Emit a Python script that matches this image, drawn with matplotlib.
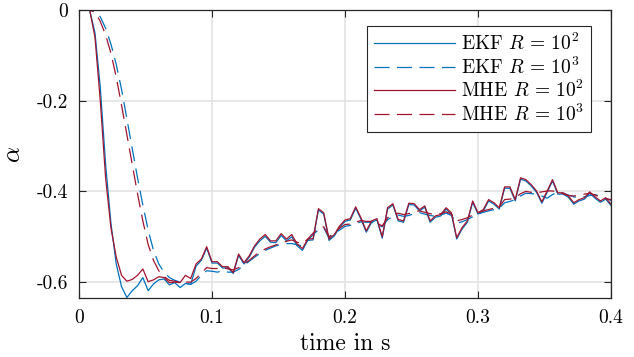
import numpy as np
import matplotlib
matplotlib.use('Agg')
import matplotlib.pyplot as plt

plt.rcParams['font.family'] = 'cmr10'
plt.rcParams['mathtext.fontset'] = 'cm'
plt.rcParams['axes.unicode_minus'] = False
plt.rcParams['axes.formatter.use_mathtext'] = True

# sample time 4 ms, 101 samples
dt = 0.004
t = np.arange(101) * dt

# MHE, R = 10^2 (solid red)
mhe_r2 = [0, 0, 0, -0.06, -0.20, -0.37, -0.48, -0.545, -0.585, -0.598,
          -0.594, -0.585, -0.571, -0.599, -0.595, -0.588, -0.590, -0.601, -0.600, -0.601,
          -0.585, -0.592, -0.560, -0.549, -0.522, -0.555, -0.555, -0.566, -0.566, -0.579,
          -0.538, -0.557, -0.542, -0.520, -0.505, -0.495, -0.509, -0.509, -0.493, -0.505,
          -0.495, -0.516, -0.526, -0.505, -0.504, -0.438, -0.447, -0.505, -0.495, -0.476,
          -0.463, -0.460, -0.434, -0.458, -0.487, -0.465, -0.460, -0.500, -0.436, -0.427,
          -0.462, -0.465, -0.426, -0.427, -0.440, -0.432, -0.465, -0.454, -0.451, -0.436,
          -0.447, -0.502, -0.480, -0.465, -0.421, -0.447, -0.440, -0.418, -0.425, -0.436,
          -0.390, -0.390, -0.418, -0.370, -0.374, -0.385, -0.399, -0.423, -0.399, -0.374,
          -0.403, -0.403, -0.410, -0.425, -0.418, -0.414, -0.401, -0.412, -0.421, -0.414,
          -0.428]

# EKF, R = 10^2 (solid blue)
ekf_r2 = [0, 0, 0, -0.05, -0.17, -0.34, -0.47, -0.56, -0.61, -0.634,
          -0.619, -0.608, -0.590, -0.619, -0.604, -0.595, -0.593, -0.606, -0.601, -0.612,
          -0.603, -0.605, -0.565, -0.552, -0.525, -0.558, -0.558, -0.569, -0.568, -0.581,
          -0.541, -0.560, -0.545, -0.523, -0.509, -0.499, -0.512, -0.513, -0.497, -0.509,
          -0.500, -0.520, -0.530, -0.508, -0.507, -0.441, -0.450, -0.508, -0.498, -0.479,
          -0.466, -0.463, -0.437, -0.461, -0.490, -0.468, -0.463, -0.503, -0.439, -0.430,
          -0.465, -0.468, -0.429, -0.430, -0.443, -0.435, -0.468, -0.457, -0.454, -0.439,
          -0.450, -0.505, -0.483, -0.468, -0.424, -0.450, -0.443, -0.421, -0.428, -0.439,
          -0.393, -0.393, -0.421, -0.373, -0.377, -0.388, -0.402, -0.426, -0.402, -0.377,
          -0.406, -0.406, -0.413, -0.428, -0.421, -0.417, -0.404, -0.415, -0.424, -0.417,
          -0.431]

# MHE, R = 10^3 (dashed red)
mhe_r3 = [0, 0, 0, -0.005, -0.025, -0.055, -0.095, -0.148, -0.21, -0.275,
          -0.34, -0.405, -0.465, -0.517, -0.552, -0.575, -0.588, -0.596, -0.598, -0.600,
          -0.600, -0.600, -0.592, -0.580, -0.568, -0.570, -0.570, -0.568, -0.571, -0.573,
          -0.568, -0.560, -0.552, -0.542, -0.533, -0.527, -0.522, -0.518, -0.514, -0.510,
          -0.507, -0.512, -0.515, -0.505, -0.492, -0.482, -0.478, -0.500, -0.490, -0.481,
          -0.473, -0.472, -0.468, -0.464, -0.466, -0.466, -0.470, -0.476, -0.458, -0.452,
          -0.448, -0.451, -0.449, -0.445, -0.443, -0.446, -0.449, -0.451, -0.449, -0.445,
          -0.450, -0.465, -0.462, -0.458, -0.452, -0.447, -0.443, -0.440, -0.437, -0.434,
          -0.418, -0.417, -0.414, -0.405, -0.400, -0.402, -0.403, -0.401, -0.399, -0.399,
          -0.402, -0.405, -0.409, -0.410, -0.409, -0.406, -0.404, -0.408, -0.413, -0.416,
          -0.418]

# EKF, R = 10^3 (dashed blue)
ekf_r3 = [0, 0, 0, -0.003, -0.015, -0.040, -0.075, -0.120, -0.175, -0.240,
          -0.305, -0.370, -0.430, -0.485, -0.530, -0.560, -0.578, -0.590, -0.596, -0.600,
          -0.603, -0.605, -0.598, -0.585, -0.575, -0.576, -0.578, -0.575, -0.578, -0.578,
          -0.572, -0.563, -0.554, -0.545, -0.537, -0.530, -0.525, -0.520, -0.517, -0.515,
          -0.515, -0.518, -0.520, -0.508, -0.495, -0.485, -0.480, -0.503, -0.493, -0.485,
          -0.477, -0.475, -0.471, -0.467, -0.468, -0.468, -0.472, -0.478, -0.462, -0.456,
          -0.452, -0.455, -0.453, -0.449, -0.447, -0.450, -0.453, -0.455, -0.452, -0.448,
          -0.453, -0.470, -0.467, -0.462, -0.456, -0.450, -0.446, -0.443, -0.440, -0.437,
          -0.425, -0.422, -0.418, -0.410, -0.404, -0.405, -0.406, -0.410, -0.415, -0.407,
          -0.401, -0.404, -0.408, -0.412, -0.414, -0.412, -0.409, -0.407, -0.411, -0.415,
          -0.420]

labels = [r'EKF $R\,=\,10^2$', r'EKF $R\,=\,10^3$', r'MHE $R\,=\,10^2$', r'MHE $R\,=\,10^3$']
xticks = [0, 0.1, 0.2, 0.3, 0.4]
xticklabels = ['0', '0.1', '0.2', '0.3', '0.4']
yticks = [-0.6, -0.4, -0.2, 0]
yticklabels = ['-0.6', '-0.4', '-0.2', '0']

blue = '#0072BD'
red = '#A2142F'
dash = (0, (12, 6))

fig = plt.figure(figsize=(6.34, 3.57), dpi=100)
ax = fig.add_axes([79/634, 1-298/357, 532/634, 288/357])

ax.plot(t, ekf_r2, color=blue, lw=0.9, label=labels[0])
ax.plot(t, ekf_r3, color=blue, lw=0.9, ls=dash, label=labels[1])
ax.plot(t, mhe_r2, color=red, lw=0.9, label=labels[2])
ax.plot(t, mhe_r3, color=red, lw=0.9, ls=dash, label=labels[3])

ax.set_xlim(0, 0.4)
ax.set_ylim(-0.635, 0)
ax.set_xticks(xticks)
ax.set_xticklabels(xticklabels)
ax.set_yticks(yticks)
ax.set_yticklabels(yticklabels)
ax.tick_params(direction='in', top=True, right=True, labelsize=14, length=5,
               width=0.8, color='#262626', pad=8)
ax.grid(True, color='#e3e3e3', lw=1.2)
ax.set_axisbelow(True)
for s in ax.spines.values():
    s.set_color('#262626')
    s.set_linewidth(0.9)

ax.set_xlabel('time in s', fontsize=17, labelpad=4)
ax.set_ylabel(r'$\alpha$', fontsize=18, labelpad=8)

leg = ax.legend(loc='upper right', bbox_to_anchor=(512/532, 1-16/288), borderaxespad=0,
                fontsize=14, handlelength=4.2, handletextpad=0.3, labelspacing=0.12,
                fancybox=False, framealpha=1, edgecolor='#262626', borderpad=0.35)
leg.get_frame().set_linewidth(0.8)

fig.savefig('out.png', dpi=100)
